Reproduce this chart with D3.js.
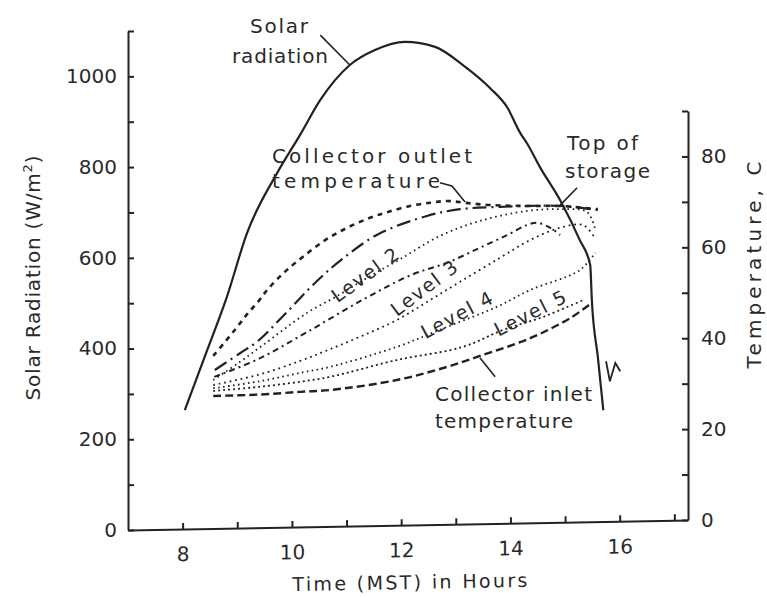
<!DOCTYPE html>
<html>
<head>
<meta http-equiv="Content-Type" content="text/html;charset=utf-8">
<title>Collector and storage temperatures</title>
<script src="https://d3js.org/d3.v7.min.js"></script>
<style>
  html, body {
    margin: 0;
    padding: 0;
    background: #fff;
  }
  text {
    font-family: "DejaVu Sans", sans-serif;
    fill: #2a2a2a;
  }
  .axis path, .axis line {
    stroke: #222;
    stroke-width: 2px;
  }
  .series {
    fill: none;
    stroke: #222;
  }
  .pointer {
    fill: none;
    stroke: #222;
    stroke-width: 1.6px;
  }
</style>
</head>
<body>
<script type="text/javascript">

// values: [hour (MST), value]
let solarRadiation = [[8.04,264],[8.41,384],[8.81,514],[9.18,655],[9.73,787],[10.15,871],[10.52,948],
  [11.06,1025],[11.52,1058],[12.07,1076],[12.62,1065],[13.13,1025],[13.63,974],[13.94,932],
  [14.18,875],[14.3,853],[14.54,800],[14.91,727],[15.27,639],[15.46,584],[15.49,507],[15.6,381],[15.7,264]];
let breakMark = [[15.75,372],[15.82,328],[15.92,368],[16.01,350]];

let outletTemp = [[8.56,36.1],[8.79,39.4],[9.0,42.5],[9.18,45.3],[9.38,48.0],[9.56,50.8],[9.87,54.6],
  [10.2,57.9],[10.61,61.6],[11.01,64.3],[11.43,66.5],[11.76,67.8],[12.16,69.1],[12.53,69.8],
  [12.84,70.2],[13.17,69.8],[13.63,69.3],[14.36,69.1],[14.91,69.1],[15.6,68.4]];
let topOfStorage = [[8.59,33.0],[9.05,36.7],[9.36,39.2],[9.84,44.9],[10.46,52.6],[10.92,57.4],
  [11.58,62.9],[12.47,66.9],[13.08,68.4],[13.81,68.9],[14.91,69.1],[15.6,68.2]];
let level2 = [[8.56,30.8],[9.05,34.8],[9.47,38.5],[10.28,45.6],[10.83,49.3],[11.38,53.3],[11.98,57.4],
  [12.71,62.5],[13.44,65.8],[14.3,68.0],[14.91,68.4],[15.4,67.8],[15.55,64.0]];
let level2b = [[8.58,31.5],[9.4,35.5],[10.3,41.5],[11.3,48.5],[12.2,54.0],[12.84,56.6],[13.44,59.9],
  [13.94,62.7],[14.3,64.9],[14.49,65.4],[14.73,64.3],[14.91,62.7]];
let level3 = [[8.56,29.7],[9.4,32.0],[10.15,35.0],[10.7,37.6],[11.3,40.6],[11.92,44.0],[12.53,48.4],
  [13.13,52.8],[13.81,57.7],[14.36,61.6],[14.91,64.3],[15.33,64.9],[15.55,62.0]];
let level4 = [[8.56,29.0],[9.4,30.5],[10.2,32.5],[10.7,33.7],[11.92,38.1],[12.84,42.5],[13.75,46.9],
  [14.36,50.6],[15.27,55.0],[15.55,58.8]];
let level5 = [[8.56,28.4],[9.4,29.3],[10.2,30.5],[10.7,31.5],[11.92,35.2],[13.13,38.1],[13.86,41.8],
  [14.6,44.7],[15.33,48.4]];
let inletTemp = [[8.56,27.3],[9.4,27.6],[10.15,28.2],[10.7,28.6],[11.92,30.8],[12.84,33.7],[13.44,36.1],
  [14.36,40.0],[15.09,44.4],[15.46,47.5]];

let solarTicks = [0, 200, 400, 600, 800, 1000];
let tempTicks = [0, 20, 40, 60, 80];
let hourTicks = [8, 10, 12, 14, 16];

let width = 767, height = 597;

let svg = d3.select("body").append("svg")
  .attr("width", width)
  .attr("height", height);

let x = d3.scaleLinear().domain([7, 17.25]).range([128, 688]);
let yL = d3.scaleLinear().domain([0, 1100]).range([530, 31]);
let yR = d3.scaleLinear().domain([0, 90]).range([520, 111]);

function labelOnly(list) {
  return function(d) { return list.indexOf(d) >= 0 ? d : ""; };
}

// left axis (W/m2)
svg.append("g")
  .attr("class", "axis")
  .attr("transform", "translate(128,0)")
  .call(d3.axisLeft(yL)
    .tickValues(d3.range(0, 1101, 100))
    .tickFormat(labelOnly(solarTicks))
    .tickSizeInner(-6).tickSizeOuter(0).tickPadding(11));

// right axis (C)
svg.append("g")
  .attr("class", "axis")
  .attr("transform", "translate(688,0)")
  .call(d3.axisRight(yR)
    .tickValues(d3.range(0, 91, 10))
    .tickFormat(labelOnly(tempTicks))
    .tickSizeInner(-6).tickSizeOuter(0).tickPadding(13));

// bottom axis, scanned page is slightly tilted
svg.append("g")
  .attr("class", "axis")
  .attr("transform", "translate(0,532.3) skewY(-1.02)")
  .call(d3.axisBottom(x)
    .tickValues(d3.range(8, 18, 1))
    .tickFormat(labelOnly(hourTicks))
    .tickSizeInner(-6).tickSizeOuter(0).tickPadding(18));

svg.selectAll(".axis text")
  .attr("font-size", 20)
  .attr("font-family", "DejaVu Sans, sans-serif")
  .attr("fill", "#2a2a2a");

// axis titles
let yTitle = svg.append("text")
  .attr("transform", "translate(40,278) rotate(-90)")
  .attr("text-anchor", "middle")
  .attr("font-size", 20)
  .attr("textLength", 245);
yTitle.append("tspan").text("Solar Radiation (W/m");
yTitle.append("tspan").attr("dy", -8).attr("font-size", 13).text("2");
yTitle.append("tspan").attr("dy", 8).text(")");

svg.append("text")
  .attr("transform", "translate(761,265) rotate(-90)")
  .attr("text-anchor", "middle")
  .attr("font-size", 20)
  .attr("textLength", 207)
  .text("Temperature, C");

svg.append("text")
  .attr("transform", "translate(410,589) rotate(-1)")
  .attr("text-anchor", "middle")
  .attr("font-size", 19)
  .attr("textLength", 235)
  .text("Time (MST) in Hours");

// series
let lineL = d3.line().x(d => x(d[0])).y(d => yL(d[1])).curve(d3.curveMonotoneX);
let lineR = d3.line().x(d => x(d[0])).y(d => yR(d[1])).curve(d3.curveCatmullRom.alpha(0.5));
let lineStraight = d3.line().x(d => x(d[0])).y(d => yL(d[1]));

svg.append("path").attr("class", "series")
  .attr("d", lineL(solarRadiation))
  .attr("stroke-width", 2.2);
svg.append("path").attr("class", "series")
  .attr("d", lineStraight(breakMark))
  .attr("stroke-width", 1.8);

let tempSeries = [
  {data: inletTemp, dash: "8,4", w: 2.4},
  {data: level5, dash: "2,3", w: 1.8},
  {data: level4, dash: "1.6,3.4", w: 1.8},
  {data: level3, dash: "1.8,3.8", w: 1.8},
  {data: level2b, dash: "6,4,2,4", w: 2},
  {data: level2, dash: "1.6,3.6", w: 1.8},
  {data: topOfStorage, dash: "14,5,2,5", w: 2.2},
  {data: outletTemp, dash: "5,5", w: 2.6}
];

svg.selectAll(".temp")
  .data(tempSeries)
  .enter().append("path")
  .attr("class", "series temp")
  .attr("d", d => lineR(d.data))
  .attr("stroke-width", d => d.w)
  .attr("stroke-dasharray", d => d.dash);

// annotations
function note(str, x0, y0, len) {
  svg.append("text").attr("x", x0).attr("y", y0)
    .attr("font-size", 20)
    .attr("textLength", len)
    .attr("lengthAdjust", "spacing")
    .text(str);
}
note("Solar", 250, 33, 58);
note("radiation", 232, 63, 96);
note("Collector outlet", 272, 163, 200);
note("temperature", 272, 188, 168);
note("Top of", 567, 150, 71);
note("storage", 565, 178, 85);
note("Collector inlet", 435, 401, 157);
note("temperature", 435, 428, 138);

let pointer = d3.line().x(d => x(d[0])).y(d => d[2] ? yL(d[1]) : yR(d[1]));
svg.append("path").attr("class", "pointer")
  .attr("d", pointer([[10.52,1091,1],[11.06,1025,1]]));
svg.append("path").attr("class", "pointer")
  .attr("d", pointer([[12.71,74.2],[12.93,73.5],[13.17,70.0]]));
svg.append("path").attr("class", "pointer")
  .attr("d", pointer([[15.22,73.1],[14.91,69.3]]));
svg.append("path").attr("class", "pointer")
  .attr("d", pointer([[13.72,31.5],[13.44,35.7]]));

// level labels, written along the curves
let levelLabels = [
  {t: "Level 2", h: 11.34, v: 53.9, a: -36},
  {t: "Level 3", h: 12.42, v: 51.0, a: -37},
  {t: "Level 4", h: 13.02, v: 45.1, a: -28},
  {t: "Level 5", h: 14.36, v: 45.5, a: -27}
];
svg.selectAll(".lvl")
  .data(levelLabels)
  .enter().append("text")
  .attr("class", "lvl")
  .attr("transform", d => "translate(" + x(d.h) + "," + yR(d.v) + ") rotate(" + d.a + ")")
  .attr("text-anchor", "middle")
  .attr("dy", "0.35em")
  .attr("font-size", 19)
  .attr("textLength", 78)
  .text(d => d.t);

</script>
</body>
</html>
